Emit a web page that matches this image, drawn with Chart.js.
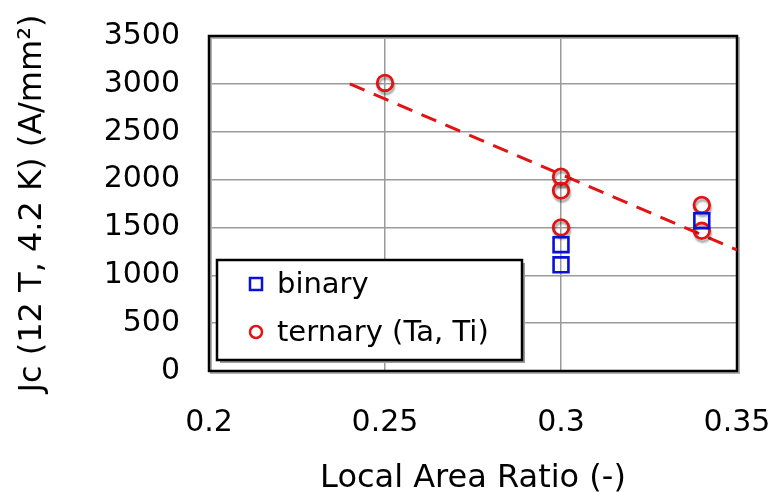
<!DOCTYPE html>
<html>
<head>
<meta charset="utf-8">
<script src="https://cdn.jsdelivr.net/npm/chart.js@4/dist/chart.umd.min.js"></script>
<style>
  html, body { margin: 0; padding: 0; background: #fff; }
  #wrap { width: 779px; height: 492px; }
</style>
</head>
<body>
<div id="wrap"><canvas id="jcChart" width="779" height="492"></canvas></div>
<script>
// data
var binaryX = [0.3, 0.3, 0.34];
var binaryY = [1320, 1110, 1570];
var ternaryX = [0.25, 0.3, 0.3, 0.3, 0.34, 0.34];
var ternaryY = [3010, 2030, 1885, 1500, 1735, 1465];
var fitX = [0.24, 0.35];
var fitY = [3000, 1265];

var seriesLabels = ["binary", "ternary (Ta, Ti)"];
var xTitle = "Local Area Ratio (-)";
var yTitle = "J\u1D04 (12 T, 4.2 K) (A/mm\u00B2)";

function pts(xs, ys) {
    var out = [];
    for (var i = 0; i < xs.length; i++) {
        out.push({ x: xs[i], y: ys[i] });
    }
    return out;
}

var BLUE = "#0a10d8";
var RED = "#e01414";
var FONT = "'DejaVu Sans', Verdana, sans-serif";

// shadow under the circles, like the original
var shadowPlugin = {
    id: "shadow",
    beforeDatasetDraw: function(chart, args) {
        if (args.index !== 1) return;
        var ctx = chart.ctx;
        ctx.save();
        ctx.shadowColor = "rgba(0,0,0,0.35)";
        ctx.shadowOffsetX = 1;
        ctx.shadowOffsetY = 3;
        ctx.shadowBlur = 2;
    },
    afterDatasetDraw: function(chart, args) {
        if (args.index !== 1) return;
        chart.ctx.restore();
    }
};

// black frame round the plot and the boxed legend
var framePlugin = {
    id: "frame",
    beforeDatasetsDraw: function(chart) {
        var a = chart.chartArea;
        var ctx = chart.ctx;
        ctx.save();
        ctx.strokeStyle = "#b0b0b0";
        ctx.lineWidth = 2;
        ctx.strokeRect(a.left + 2, a.top + 2, a.right - a.left, a.bottom - a.top);
        ctx.strokeStyle = "#000";
        ctx.lineWidth = 2.5;
        ctx.strokeRect(a.left, a.top, a.right - a.left, a.bottom - a.top);
        ctx.restore();
    },
    afterDraw: function(chart) {
        var ctx = chart.ctx;
        var bx = 217, by = 260, bw = 305, bh = 100;
        ctx.save();
        ctx.fillStyle = "#9a9a9a";
        ctx.fillRect(bx + 3, by + 3, bw, bh);
        ctx.fillStyle = "#fff";
        ctx.fillRect(bx, by, bw, bh);
        ctx.strokeStyle = "#000";
        ctx.lineWidth = 2.5;
        ctx.strokeRect(bx, by, bw, bh);

        ctx.font = "29px " + FONT;
        ctx.textBaseline = "middle";
        ctx.fillStyle = "#000";
        var rows = [
            { ds: chart.data.datasets[0], y: by + 24 },
            { ds: chart.data.datasets[1], y: by + 72 }
        ];
        rows.forEach(function(r) {
            ctx.strokeStyle = r.ds.borderColor;
            ctx.fillStyle = "rgba(0,0,0,0)";
            Chart.helpers.drawPoint(ctx, {
                pointStyle: r.ds.pointStyle,
                radius: r.ds.pointStyle === "rect" ? 8.5 : 6,
                borderWidth: 2.4,
                rotation: 0
            }, bx + 39, r.y);
            ctx.fillStyle = "#000";
            ctx.fillText(r.ds.label, bx + 60, r.y + 1);
        });
        ctx.restore();
    }
};

var ctx = document.getElementById("jcChart");

var jcChart = new Chart(ctx, {
    type: "scatter",
    data: {
        datasets: [{
            label: seriesLabels[0],
            data: pts(binaryX, binaryY),
            pointStyle: "rect",
            pointRadius: 10.5,
            pointHoverRadius: 10.5,
            borderColor: BLUE,
            backgroundColor: "rgba(0,0,0,0)",
            pointBorderWidth: 2.6
        }, {
            label: seriesLabels[1],
            data: pts(ternaryX, ternaryY),
            pointStyle: "circle",
            pointRadius: 7.8,
            pointHoverRadius: 7.8,
            borderColor: RED,
            backgroundColor: "rgba(0,0,0,0)",
            pointBorderWidth: 2.8
        }, {
            type: "line",
            label: "fit",
            data: pts(fitX, fitY),
            borderColor: RED,
            borderWidth: 3,
            borderDash: [16, 10],
            pointRadius: 0,
            fill: false
        }]
    },
    options: {
        responsive: false,
        animation: false,
        layout: { padding: { top: 36, right: 42, left: 0, bottom: 0 } },
        plugins: {
            legend: { display: false },
            tooltip: { enabled: false }
        },
        scales: {
            x: {
                type: "linear",
                min: 0.2,
                max: 0.35,
                afterFit: function(s) {
                    s.height = 121;
                    s.paddingLeft = 0;
                    s.paddingRight = 0;
                },
                ticks: {
                    stepSize: 0.05,
                    padding: 34,
                    color: "#000",
                    font: { family: FONT, size: 30 },
                    callback: function(v) { return String(+v.toFixed(2)); }
                },
                grid: { color: "#9a9a9a", lineWidth: 1.5, drawTicks: false },
                border: { display: false },
                title: {
                    display: true,
                    text: xTitle,
                    color: "#000",
                    font: { family: FONT, size: 32, lineHeight: 1 },
                    padding: { top: 0, bottom: -3 }
                }
            },
            y: {
                min: 0,
                max: 3500,
                afterFit: function(s) {
                    s.width = 209;
                    s.paddingTop = 0;
                    s.paddingBottom = 0;
                },
                ticks: {
                    stepSize: 500,
                    padding: 29,
                    color: "#000",
                    font: { family: FONT, size: 30 },
                    callback: function(v) { return String(v); }
                },
                grid: { color: "#9a9a9a", lineWidth: 1.5, drawTicks: false },
                border: { display: false },
                title: {
                    display: true,
                    text: yTitle,
                    color: "#000",
                    font: { family: FONT, size: 32, lineHeight: 1 },
                    padding: { top: 17, bottom: 0 }
                }
            }
        }
    },
    plugins: [shadowPlugin, framePlugin]
});
</script>
</body>
</html>
